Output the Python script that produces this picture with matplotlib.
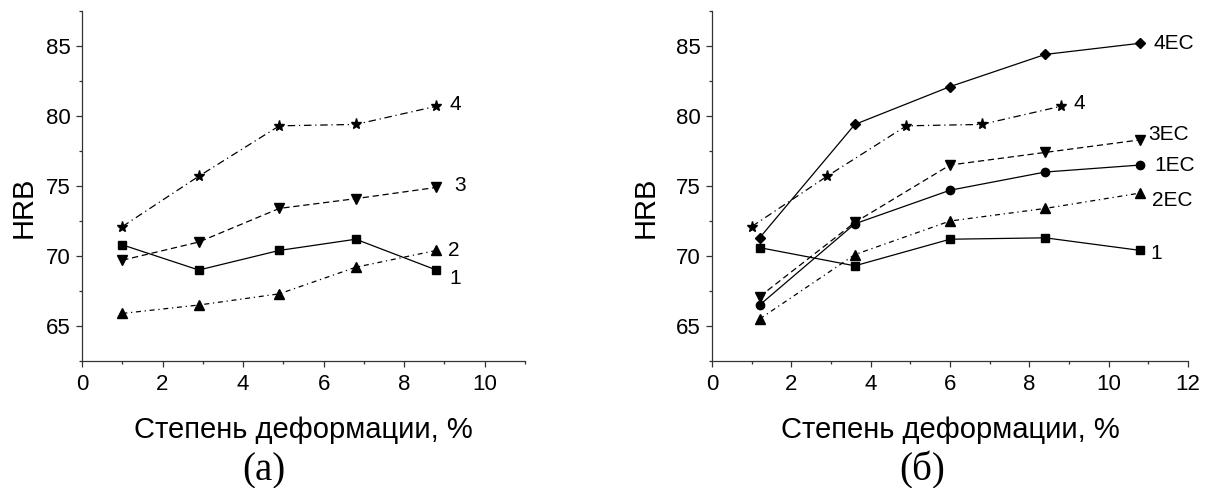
import matplotlib
matplotlib.use("Agg")
import matplotlib.pyplot as plt
from matplotlib.ticker import MultipleLocator

plt.rcParams['font.family'] = ['Liberation Sans', 'DejaVu Sans']

# (a) deformation, %, and HRB hardness
x_a = [1.0, 2.9, 4.9, 6.8, 8.8]
hrb_1 = [70.8, 69.0, 70.4, 71.2, 69.0]
hrb_2 = [65.9, 66.5, 67.3, 69.2, 70.4]
hrb_3 = [69.7, 71.0, 73.4, 74.1, 74.9]
hrb_4 = [72.1, 75.7, 79.3, 79.4, 80.7]

# (б) treated samples
x_b = [1.2, 3.6, 6.0, 8.4, 10.8]
hrb_4ec = [71.3, 79.4, 82.1, 84.4, 85.2]
hrb_3ec = [67.1, 72.4, 76.5, 77.4, 78.3]
hrb_1ec = [66.5, 72.3, 74.7, 76.0, 76.5]
hrb_2ec = [65.5, 70.1, 72.5, 73.4, 74.5]
hrb_1b = [70.6, 69.3, 71.2, 71.3, 70.4]

xlabel = 'Степень деформации, %'

SOLID = '-'
DASHED = (0, (5, 3))
DASHDOT = (0, (6, 3, 1, 3))
DASHDOT2 = (0, (4, 3, 1, 3))


def series(ax, x, y, marker, ls, label, dx, dy, ms=5.5):
    ax.plot(x, y, color='black', lw=0.9, ls=ls, marker=marker, ms=ms,
            mfc='black', mec='black')
    ax.annotate(label, (x[-1], y[-1]), xytext=(dx, dy),
                textcoords='offset pixels', fontsize=15,
                ha='left', va='center')


def style(ax, xmax, ylab_x):
    ax.set_xlim(0, xmax)
    ax.set_ylim(62.5, 87.5)
    ax.spines['top'].set_visible(False)
    ax.spines['right'].set_visible(False)
    for s in ('left', 'bottom'):
        ax.spines[s].set_linewidth(0.9)
        ax.spines[s].set_color('#333333')
    ax.xaxis.set_major_locator(MultipleLocator(2))
    ax.xaxis.set_minor_locator(MultipleLocator(1))
    ax.set_yticks([65, 70, 75, 80, 85])
    ax.yaxis.set_minor_locator(MultipleLocator(2.5))
    ax.tick_params(which='major', direction='out', length=4.5, width=0.9,
                   labelsize=16, color='#333333')
    ax.tick_params(axis='x', which='major', pad=5)
    ax.tick_params(which='minor', direction='out', length=2.5, width=0.9,
                   color='#333333')
    ax.set_xlabel(xlabel, fontsize=21, va='baseline')
    ax.xaxis.set_label_coords(0.5, -0.22)
    ax.set_ylabel('HRB', fontsize=21, va='center')
    ax.yaxis.set_label_coords(ylab_x, 0.44)


fig = plt.figure(figsize=(12.06, 4.88), dpi=100)
ax1 = fig.add_axes([0.0680, 0.2602, 0.3673, 0.7172])
ax2 = fig.add_axes([0.5904, 0.2602, 0.3947, 0.7172])

series(ax1, x_a, hrb_4, '*', DASHDOT, '4', 13, 2, ms=8)
series(ax1, x_a, hrb_3, 'v', DASHED, '3', 18, 2, ms=6.5)
series(ax1, x_a, hrb_2, '^', DASHDOT2, '2', 12, 0, ms=6.5)
series(ax1, x_a, hrb_1, 's', SOLID, '1', 13, -8)
style(ax1, 11, -0.132)

series(ax2, x_b, hrb_4ec, 'D', SOLID, '4EC', 13, 0, ms=5.5)
series(ax2, x_a, hrb_4, '*', DASHDOT, '4', 12, 3, ms=8)
series(ax2, x_b, hrb_3ec, 'v', DASHED, '3EC', 8, 5, ms=6.5)
series(ax2, x_b, hrb_1ec, 'o', SOLID, '1EC', 14, 0, ms=6)
series(ax2, x_b, hrb_2ec, '^', DASHDOT2, '2EC', 12, -7, ms=6.5)
series(ax2, x_b, hrb_1b, 's', SOLID, '1', 10, -3)
style(ax2, 12, -0.139)

fig.text(0.219, 0.016, '(a)', fontsize=28, family='Liberation Serif',
         ha='center', va='baseline')
fig.text(0.7645, 0.016, '(б)', fontsize=28, family='Liberation Serif',
         ha='center', va='baseline')

fig.savefig('out.png', dpi=100)
